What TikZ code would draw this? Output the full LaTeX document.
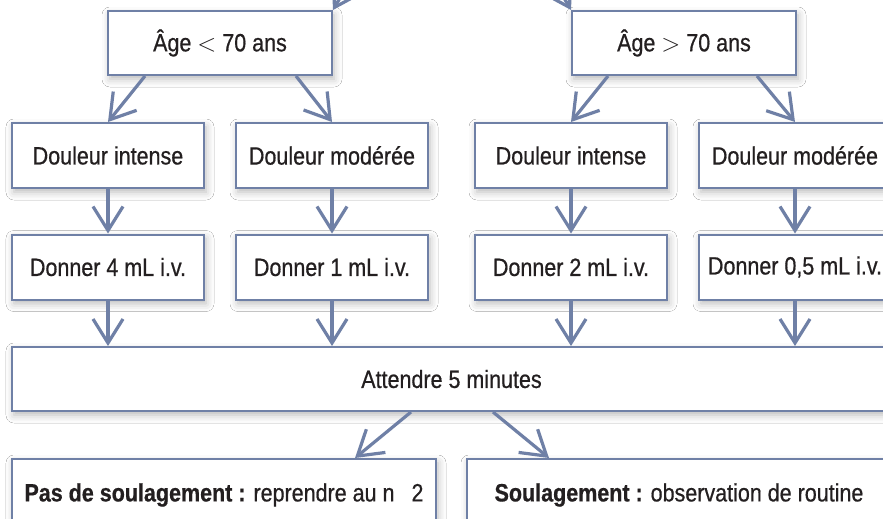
\documentclass[tikz,border=0pt]{standalone}
\usepackage{fontspec}
\setmainfont{Liberation Sans}[FakeStretch=0.86, FakeBold=0.6]
\usetikzlibrary{arrows.meta,shadows.blur}
\definecolor{bcol}{HTML}{6F80A6}
\definecolor{tcol}{HTML}{231F20}
\tikzset{
  box/.style={draw=bcol, line width=2pt, fill=white, inner sep=0pt,
    text=tcol, font=\fontsize{25}{29}\selectfont,
    blur shadow={shadow xshift=2pt, shadow yshift=-4pt, shadow blur radius=8pt, shadow opacity=28}},
  smallbox/.style={box, minimum width=192pt, minimum height=65pt},
  agebox/.style={box, minimum width=224pt, minimum height=64pt},
  arr/.style={draw=bcol, line width=3.2pt, -{Straight Barb[length=24pt,width=30pt,line width=3.2pt]}}
}
\begin{document}
\begin{tikzpicture}[x=1pt,y=-1pt]
\useasboundingbox (0,0) rectangle (883,519);
\fill[white] (0,0) rectangle (883,519);
\coordinate (top) at (452,-60);
\node[agebox] (A) at (220,43) {Âge $<$ 70 ans};
\node[agebox] (B) at (684,43) {Âge $>$ 70 ans};
\node[smallbox] (D1) at (108,155.5) {Douleur intense};
\node[smallbox] (D2) at (332,155.5) {Douleur modérée};
\node[smallbox] (D3) at (571,155.5) {Douleur intense};
\node[smallbox] (D4) at (795,155.5) {Douleur modérée};
\node[smallbox] (G1) at (108,267) {Donner 4 mL i.v.};
\node[smallbox] (G2) at (332,267) {Donner 1 mL i.v.};
\node[smallbox] (G3) at (571,267) {Donner 2 mL i.v.};
\node[smallbox] (G4) at (795,267) {Donner 0,5 mL i.v.};
\node[box, minimum width=879pt, minimum height=64pt] (W) at (451.5,379) {Attendre 5 minutes};
\node[box, minimum width=424pt, minimum height=72pt] (P) at (224,495) {\textbf{Pas de soulagement :} reprendre au n\hspace{17pt}2};
\node[box, minimum width=424pt, minimum height=72pt] (S) at (679,495) {\textbf{Soulagement :} observation de routine};
\draw[arr] (top) .. controls (380,-60) and (350,-20) .. (A.north east);
\draw[arr] (top) .. controls (524,-60) and (554,-20) .. (B.north west);
\draw[arr] ([xshift=-75pt]A.south) -- (D1.north);
\draw[arr] ([xshift=76pt]A.south) -- (D2.north);
\draw[arr] ([xshift=-76pt]B.south) -- (D3.north);
\draw[arr] ([xshift=73pt]B.south) -- (D4.north);
\foreach \i in {1,2,3,4}{
  \draw[arr] (D\i.south) -- (G\i.north);
  \draw[arr] (G\i.south) -- (G\i.south |- W.north);
}
\draw[arr] ([xshift=-40.5pt]W.south) -- ([xshift=131pt]P.north);
\draw[arr] ([xshift=41.5pt]W.south) -- ([xshift=-130pt]S.north);
\end{tikzpicture}
\end{document}
